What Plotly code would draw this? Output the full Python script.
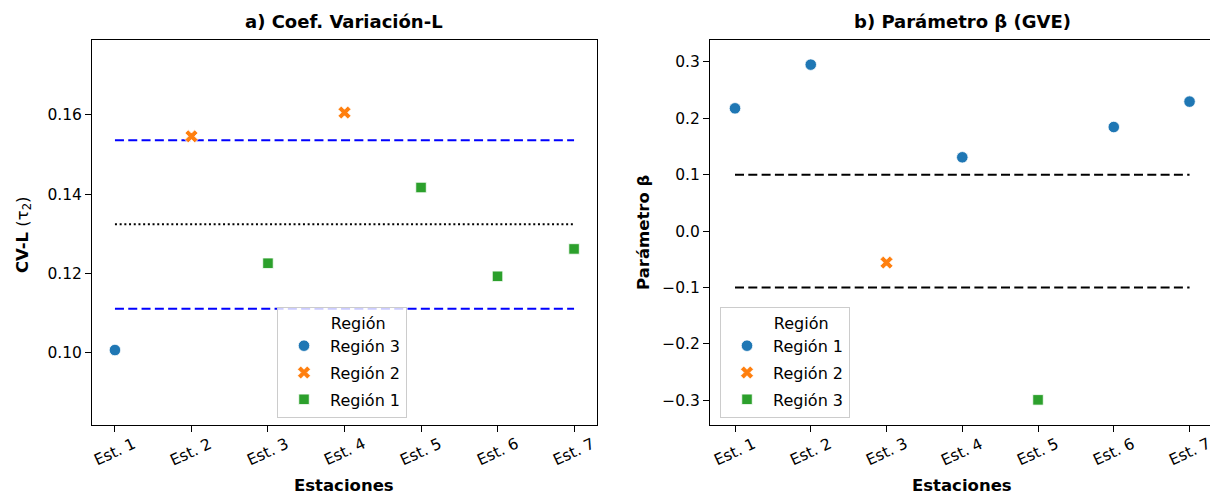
import plotly.graph_objects as go

# ---- data -------------------------------------------------------------
stations = ["Est. 1", "Est. 2", "Est. 3", "Est. 4", "Est. 5", "Est. 6", "Est. 7"]

# panel a) L-coefficient of variation (tau_2)
cv_values = [0.1007, 0.1546, 0.1226, 0.1606, 0.1417, 0.1193, 0.1262]
cv_region = ["Región 3", "Región 2", "Región 1", "Región 2", "Región 1", "Región 1", "Región 1"]
cv_order = ["Región 3", "Región 2", "Región 1"]
cv_mean = 0.1324
cv_band = [0.1536, 0.1111]

# panel b) GEV shape parameter
beta_values = [0.2178, 0.2953, -0.0559, 0.1309, -0.2994, 0.1846, 0.2297]
beta_region = ["Región 1", "Región 1", "Región 2", "Región 1", "Región 3", "Región 1", "Región 1"]
beta_order = ["Región 1", "Región 2", "Región 3"]
beta_limits = [0.1, -0.1]

cv_ticks = [0.10, 0.12, 0.14, 0.16]
beta_ticks = [-0.3, -0.2, -0.1, 0.0, 0.1, 0.2, 0.3]

# ---- styling ------------------------------------------------------------
W, H = 1210, 495
FONT = "DejaVu Sans"
palette = ["#1f77b4", "#ff7f0e", "#2ca02c"]
symbols = ["circle", "x", "square"]
sizes = [11.5, 11.5, 10.5]
DASH = "9px,4.3px"
DOT = "2px,2.7px"

fig = go.Figure()


def add_points(values, regions, order, xa, ya, legend):
    for k, reg in enumerate(order):
        xs = [s for s, r in zip(stations, regions) if r == reg]
        ys = [v for v, r in zip(values, regions) if r == reg]
        fig.add_trace(go.Scatter(
            x=xs, y=ys, mode="markers", name=reg,
            xaxis=xa, yaxis=ya, legend=legend, legendgroup=legend + reg,
            marker=dict(color=palette[k], symbol=symbols[k], size=sizes[k],
                        line=dict(color="white", width=0.8)),
        ))


def add_hline(yv, xa, ya, color, dash):
    fig.add_trace(go.Scatter(
        x=[stations[0], stations[-1]], y=[yv, yv], mode="lines",
        xaxis=xa, yaxis=ya, showlegend=False, hoverinfo="skip",
        line=dict(color=color, width=2, dash=dash),
    ))


# reference lines first so markers sit on top
for v in cv_band:
    add_hline(v, "x", "y", "#0000ff", DASH)
add_hline(cv_mean, "x", "y", "black", DOT)
for v in beta_limits:
    add_hline(v, "x2", "y2", "black", DASH)

add_points(cv_values, cv_region, cv_order, "x", "y", "legend")
add_points(beta_values, beta_region, beta_order, "x2", "y2", "legend2")


# pixel geometry turned into paper fractions
def px_x(p):
    return p / W


def px_y(p):
    return 1 - p / H


top, bottom = px_y(40), px_y(425)
axis_common = dict(showgrid=False, zeroline=False, showline=True, linecolor="black",
                   linewidth=1, ticks="outside", ticklen=6, tickcolor="black",
                   tickfont=dict(family=FONT, size=15.5, color="black"))

legend_common = dict(
    xanchor="left", yanchor="top",
    bgcolor="rgba(255,255,255,0.8)", bordercolor="#cccccc", borderwidth=1,
    font=dict(family=FONT, size=16, color="black"),
    title=dict(text="&nbsp;" * 10 + "Región", side="top",
               font=dict(family=FONT, size=16, color="black")),
    tracegroupgap=3, itemwidth=42,
)

fig.update_layout(
    width=W, height=H,
    margin=dict(l=0, r=0, t=0, b=0),
    paper_bgcolor="white", plot_bgcolor="white",
    font=dict(family=FONT, color="black"),
    xaxis=dict(domain=[px_x(92), px_x(597)], anchor="y", type="category",
               categoryorder="array", categoryarray=stations,
               range=[-0.3, 6.3], mirror=True, showticklabels=False, **axis_common),
    yaxis=dict(domain=[bottom, top], anchor="x", range=[0.0818, 0.1789],
               tickvals=cv_ticks, tickformat=".2f", mirror=True, **axis_common),
    xaxis2=dict(domain=[px_x(710), 1.0], anchor="y2", type="category",
                categoryorder="array", categoryarray=stations,
                range=[-0.33, 6.27], mirror=True, showticklabels=False, **axis_common),
    yaxis2=dict(domain=[bottom, top], anchor="x2", range=[-0.344, 0.339],
                tickvals=beta_ticks, tickformat=".1f", mirror=False, **axis_common),
    legend=dict(x=px_x(277), y=px_y(307), **legend_common),
    legend2=dict(x=px_x(720), y=px_y(307), **legend_common),
)

# rotated station labels under each axis
for xa in ["x", "x2"]:
    for s in stations:
        fig.add_annotation(x=s, xref=xa, y=px_y(452), yref="paper", text=s,
                           textangle=-25, showarrow=False, xanchor="center",
                           yanchor="middle", font=dict(family=FONT, size=15.5, color="black"))

# titles and axis labels
texts = [
    ("<b>a) Coef. Variación-L</b>", px_x(344), px_y(22), 0, 18),
    ("<b>b) Parámetro β (GVE)</b>", px_x(962), px_y(22), 0, 18),
    ("<b>Estaciones</b>", px_x(344), px_y(485), 0, 16.5),
    ("<b>Estaciones</b>", px_x(962), px_y(485), 0, 16.5),
    ("<b>CV-L</b> (τ<sub>2</sub>)", px_x(24), px_y(235), -90, 16.5),
    ("<b>Parámetro β</b>", px_x(643), px_y(232), -90, 16.5),
]
for t, x, y, ang, sz in texts:
    fig.add_annotation(x=x, y=y, xref="paper", yref="paper", text=t, showarrow=False,
                       textangle=ang, xanchor="center", yanchor="middle",
                       font=dict(family=FONT, size=sz, color="black"))

fig.write_html("out.html")
